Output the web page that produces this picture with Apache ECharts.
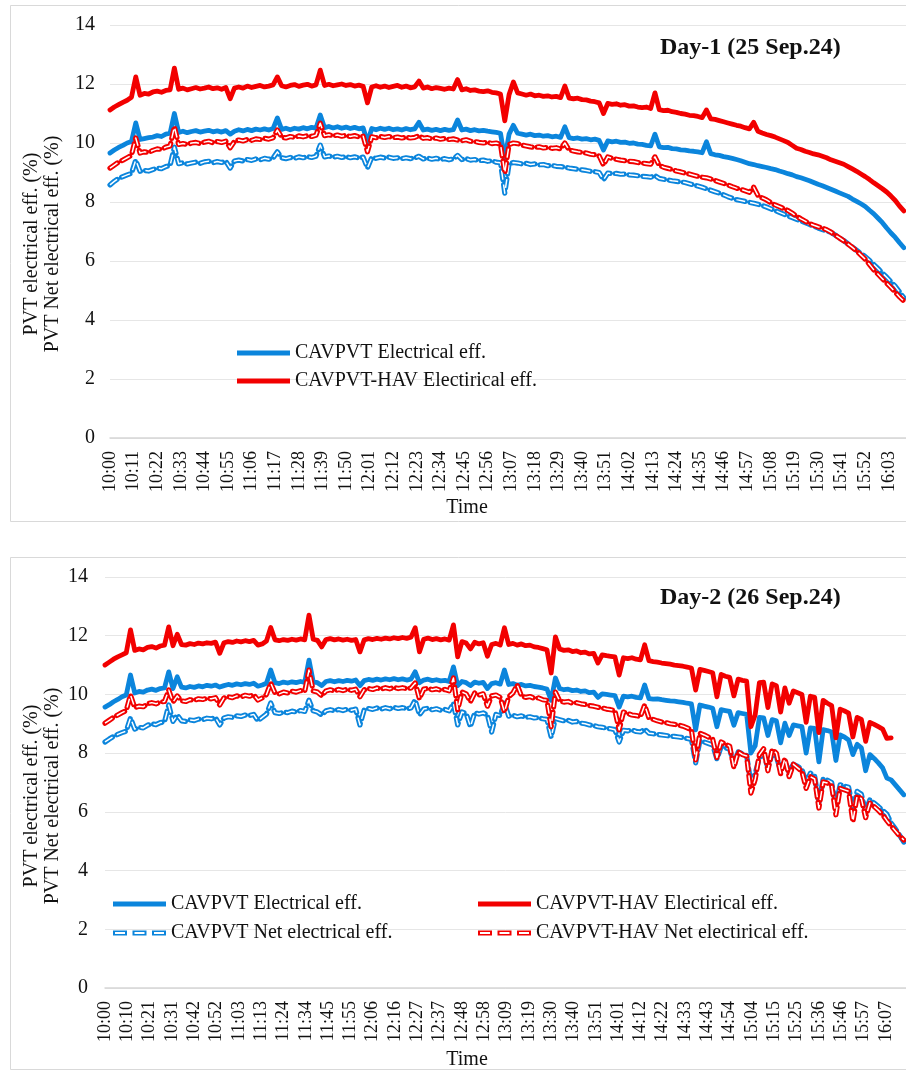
<!DOCTYPE html>
<html>
<head>
<meta charset="utf-8">
<script src="https://cdn.jsdelivr.net/npm/echarts@6/dist/echarts.min.js"></script>
<style>
html,body{margin:0;padding:0;background:#fff;}
#chart{width:906px;height:1071px;}
</style>
</head>
<body>
<div id="chart"></div>
<script>
// ---------- data (minutes after 10:00, one sample every 2 minutes) ----------
const day1Step = 2;
const day2Step = 2;

const day1Ticks = ['10:00','10:11','10:22','10:33','10:44','10:55','11:06','11:17','11:28','11:39','11:50','12:01','12:12','12:23','12:34','12:45','12:56','13:07','13:18','13:29','13:40','13:51','14:02','14:13','14:24','14:35','14:46','14:57','15:08','15:19','15:30','15:41','15:52','16:03'];
const day2Ticks = ['10:00','10:10','10:21','10:31','10:42','10:52','11:03','11:13','11:24','11:34','11:45','11:55','12:06','12:16','12:27','12:37','12:48','12:58','13:09','13:19','13:30','13:40','13:51','14:01','14:12','14:22','14:33','14:43','14:54','15:04','15:15','15:25','15:36','15:46','15:57','16:07'];

const day1Electrical = [
9.66,9.76,9.85,9.92,10.00,10.05,10.68,10.12,10.15,10.18,
10.20,10.25,10.22,10.30,10.33,11.00,10.36,10.40,10.35,10.39,
10.42,10.37,10.40,10.43,10.38,10.41,10.37,10.42,10.30,10.40,
10.45,10.41,10.46,10.42,10.47,10.44,10.48,10.44,10.49,10.85,
10.46,10.50,10.45,10.50,10.47,10.52,10.48,10.53,10.50,10.95,
10.52,10.56,10.51,10.55,10.50,10.54,10.49,10.53,10.48,10.51,
10.03,10.49,10.45,10.50,10.46,10.50,10.45,10.48,10.44,10.49,
10.45,10.48,10.70,10.44,10.47,10.43,10.46,10.42,10.46,10.43,
10.45,10.78,10.44,10.47,10.42,10.45,10.41,10.43,10.40,10.38,
10.36,10.33,9.45,10.30,10.60,10.33,10.30,10.27,10.30,10.25,
10.27,10.23,10.25,10.21,10.23,10.19,10.55,10.18,10.15,10.17,
10.13,10.15,10.11,10.13,10.09,9.76,10.07,10.04,10.06,10.02,
10.03,9.99,10.00,9.96,9.95,9.92,9.90,10.30,9.87,9.84,
9.85,9.81,9.80,9.77,9.76,9.73,9.72,9.70,9.67,10.04,
9.64,9.60,9.58,9.54,9.51,9.48,9.44,9.40,9.35,9.30,
9.27,9.23,9.20,9.17,9.13,9.10,9.05,9.01,8.96,8.92,
8.86,8.82,8.77,8.72,8.66,8.60,8.55,8.49,8.43,8.37,
8.31,8.25,8.19,8.10,8.02,7.94,7.85,7.72,7.60,7.45,
7.30,7.12,6.95,6.80,6.62,6.45];

const day1HavElectrical = [
11.12,11.22,11.30,11.38,11.45,11.55,12.24,11.62,11.68,11.66,
11.73,11.76,11.72,11.78,11.80,12.54,11.82,11.86,11.80,11.84,
11.88,11.83,11.86,11.90,11.84,11.87,11.82,11.88,11.50,11.86,
11.90,11.86,11.93,11.88,11.92,11.95,11.90,11.93,11.97,12.24,
11.94,11.90,11.95,11.98,11.92,11.96,11.99,11.93,11.97,12.47,
11.95,11.99,11.94,11.97,12.00,11.95,11.98,11.93,11.96,11.92,
11.36,11.90,11.94,11.89,11.93,11.88,11.92,11.95,11.89,11.93,
11.87,11.90,12.10,11.86,11.90,11.84,11.88,11.85,11.82,11.86,
11.83,12.15,11.80,11.84,11.78,11.80,11.76,11.74,11.77,11.72,
11.70,11.66,10.75,11.64,12.07,11.70,11.66,11.62,11.66,11.60,
11.62,11.58,11.60,11.56,11.58,11.54,11.93,11.52,11.50,11.52,
11.47,11.46,11.42,11.40,11.36,11.00,11.34,11.31,11.33,11.28,
11.30,11.25,11.26,11.22,11.20,11.22,11.17,11.70,11.13,11.10,
11.11,11.06,11.04,11.00,10.98,10.94,10.93,10.90,10.86,11.12,
10.82,10.80,10.76,10.72,10.68,10.64,10.60,10.57,10.52,10.48,
10.70,10.40,10.34,10.29,10.25,10.20,10.14,10.08,10.02,9.92,
9.82,9.78,9.72,9.68,9.63,9.60,9.55,9.50,9.43,9.38,
9.33,9.28,9.20,9.12,9.04,8.95,8.86,8.76,8.65,8.55,
8.45,8.34,8.20,8.05,7.86,7.70];

const day1NetElectrical = [
8.58,8.70,8.80,8.86,8.92,8.97,9.42,9.04,9.07,9.05,
9.10,9.15,9.13,9.20,9.24,9.86,9.30,9.33,9.29,9.32,
9.35,9.31,9.36,9.38,9.33,9.37,9.34,9.38,9.15,9.39,
9.42,9.39,9.44,9.41,9.46,9.43,9.48,9.45,9.49,9.70,
9.50,9.47,9.51,9.48,9.53,9.50,9.54,9.51,9.55,9.93,
9.53,9.56,9.52,9.55,9.51,9.54,9.50,9.53,9.49,9.52,
9.15,9.51,9.48,9.52,9.49,9.52,9.48,9.50,9.47,9.50,
9.47,9.49,9.55,9.46,9.49,9.45,9.48,9.44,9.47,9.43,
9.46,9.58,9.44,9.47,9.42,9.44,9.40,9.42,9.38,9.40,
9.35,9.33,8.30,9.30,9.34,9.32,9.29,9.31,9.27,9.29,
9.26,9.27,9.23,9.24,9.21,9.20,9.18,9.15,9.13,9.11,
9.09,9.07,9.04,9.03,9.00,8.75,8.98,8.96,8.97,8.94,
8.95,8.92,8.91,8.89,8.87,8.86,8.84,8.90,8.80,8.77,
8.75,8.72,8.70,8.68,8.66,8.62,8.58,8.54,8.50,8.45,
8.40,8.35,8.30,8.24,8.18,8.13,8.08,8.05,8.02,7.99,
7.96,7.92,7.88,7.83,7.77,7.71,7.65,7.59,7.53,7.47,
7.41,7.36,7.30,7.24,7.18,7.12,7.07,7.02,6.97,6.88,
6.78,6.69,6.58,6.47,6.36,6.25,6.15,6.02,5.88,5.74,
5.59,5.45,5.30,5.14,4.95,4.75];

const day1HavNetElectrical = [
9.15,9.25,9.35,9.42,9.50,9.58,10.17,9.66,9.70,9.68,
9.75,9.80,9.78,9.86,9.90,10.55,9.95,9.98,9.95,10.00,
10.02,9.98,10.03,10.06,10.01,10.05,10.02,10.06,9.84,10.05,
10.10,10.07,10.12,10.09,10.14,10.12,10.16,10.13,10.18,10.44,
10.20,10.17,10.22,10.19,10.24,10.21,10.25,10.22,10.26,10.67,
10.25,10.28,10.24,10.27,10.23,10.26,10.22,10.25,10.21,10.23,
9.70,10.21,10.18,10.22,10.19,10.22,10.18,10.20,10.17,10.20,
10.17,10.19,10.25,10.16,10.18,10.14,10.17,10.13,10.15,10.12,
10.14,10.10,10.08,10.11,10.06,10.05,10.02,10.00,10.03,9.98,
10.00,9.96,8.98,9.95,10.00,9.98,9.93,9.90,9.87,9.85,
9.87,9.83,9.85,9.82,9.84,9.80,10.00,9.76,9.73,9.70,
9.68,9.66,9.62,9.60,9.56,9.25,9.53,9.48,9.45,9.42,
9.40,9.38,9.37,9.34,9.32,9.30,9.28,9.53,9.24,9.18,
9.14,9.10,9.05,9.02,8.98,8.95,8.91,8.87,8.84,8.82,
8.78,8.73,8.68,8.63,8.58,8.52,8.47,8.43,8.38,8.33,
8.50,8.22,8.14,8.07,7.98,7.90,7.84,7.78,7.71,7.62,
7.52,7.43,7.35,7.27,7.21,7.16,7.12,7.06,6.98,6.88,
6.78,6.68,6.57,6.46,6.34,6.20,6.06,5.88,5.70,5.55,
5.40,5.25,5.10,4.94,4.78,4.64];

const day2Electrical = [
9.57,9.65,9.75,9.83,9.92,9.98,10.66,10.05,10.10,10.08,
10.15,10.18,10.14,10.20,10.22,10.77,10.20,10.60,10.25,10.22,
10.27,10.24,10.29,10.26,10.31,10.28,10.32,10.25,10.30,10.34,
10.31,10.36,10.33,10.37,10.34,10.38,10.28,10.32,10.38,10.83,
10.40,10.37,10.42,10.39,10.43,10.40,10.44,10.41,11.17,10.43,
10.40,10.30,10.44,10.47,10.43,10.47,10.44,10.48,10.45,10.49,
10.30,10.47,10.51,10.48,10.52,10.49,10.53,10.50,10.54,10.50,
10.53,10.49,10.52,10.77,10.40,10.49,10.52,10.47,10.50,10.46,
10.48,10.44,10.94,10.30,10.44,10.40,10.30,10.42,10.38,10.41,
10.20,10.37,10.40,10.35,10.83,10.34,10.37,10.31,10.34,10.29,
10.31,10.27,10.25,10.22,10.18,9.80,10.56,10.20,10.16,10.18,
10.13,10.15,10.10,10.12,10.06,10.08,9.90,10.02,10.00,9.98,
9.96,9.57,9.94,9.92,9.94,9.90,9.88,10.32,9.86,9.84,
9.85,9.82,9.80,9.78,9.77,9.75,9.73,9.70,9.68,8.79,
9.64,9.60,9.57,9.53,8.90,9.48,9.45,9.42,8.95,9.38,
9.35,9.32,8.00,8.25,9.22,9.20,8.60,9.14,9.10,8.35,
9.02,8.60,8.96,8.93,8.90,8.00,8.86,8.84,7.70,8.80,
8.77,8.72,7.75,8.62,8.55,8.45,7.95,8.30,8.18,7.40,
7.95,7.82,7.67,7.50,7.15,7.09,6.92,6.75,6.58];

const day2HavElectrical = [
11.00,11.10,11.20,11.28,11.35,11.42,12.20,11.50,11.55,11.52,
11.60,11.63,11.58,11.65,11.68,12.30,11.66,12.05,11.70,11.68,
11.73,11.70,11.75,11.72,11.76,11.74,11.78,11.40,11.76,11.80,
11.77,11.82,11.79,11.83,11.80,11.84,11.68,11.72,11.82,12.28,
11.86,11.83,11.87,11.84,11.88,11.85,11.89,11.86,12.70,11.88,
11.84,11.62,11.87,11.90,11.86,11.89,11.85,11.88,11.84,11.87,
11.45,11.86,11.90,11.87,11.91,11.88,11.92,11.89,11.93,11.90,
11.94,11.91,11.95,12.27,11.45,11.88,11.92,11.87,11.90,11.86,
11.89,11.85,12.37,11.28,11.80,11.75,11.55,11.78,11.72,11.76,
11.30,11.70,11.74,11.68,12.27,11.70,11.74,11.68,11.72,11.66,
11.68,11.62,11.60,11.56,11.52,10.73,11.96,11.55,11.50,11.52,
11.46,11.48,11.42,11.44,11.38,11.40,11.07,11.35,11.32,11.30,
11.28,10.66,11.25,11.22,11.25,11.20,11.18,11.69,11.15,11.12,
11.10,11.07,11.05,11.03,11.00,10.98,10.96,10.93,10.90,10.15,
10.85,10.82,10.78,10.74,9.92,10.68,10.62,10.58,9.95,10.52,
10.48,10.45,8.90,9.30,10.40,10.42,9.55,10.36,10.30,9.40,
10.22,9.70,10.12,10.06,10.00,9.05,9.94,9.90,8.70,9.80,
9.70,9.62,8.52,9.50,9.44,9.36,8.55,9.22,9.15,8.40,
9.05,8.98,8.90,8.82,8.50,8.52,null,null,null];

const day2NetElectrical = [
8.38,8.48,8.57,8.64,8.70,8.75,9.20,8.82,8.88,8.86,
8.95,9.00,8.97,9.04,9.06,9.64,9.08,9.30,9.10,9.08,
9.13,9.11,9.16,9.14,9.19,9.17,9.21,8.96,9.20,9.24,
9.22,9.27,9.25,9.30,9.28,9.32,9.10,9.22,9.33,9.71,
9.38,9.35,9.40,9.38,9.43,9.40,9.45,9.42,9.80,9.44,
9.40,9.30,9.44,9.48,9.44,9.49,9.45,9.50,9.46,9.50,
8.96,9.48,9.52,9.49,9.54,9.50,9.55,9.51,9.56,9.52,
9.55,9.51,9.54,9.81,9.30,9.50,9.53,9.48,9.51,9.46,
9.49,9.44,9.70,8.96,9.40,9.35,8.90,9.38,9.33,9.37,
9.30,8.72,9.32,9.28,9.70,9.26,9.29,9.24,9.27,9.22,
9.24,9.20,9.21,9.17,9.15,8.55,9.18,9.14,9.10,9.12,
9.06,9.08,9.02,9.00,8.96,8.94,8.90,8.88,8.85,8.83,
8.80,8.38,8.78,8.76,8.79,8.74,8.72,8.82,8.68,8.66,
8.64,8.62,8.60,8.58,8.57,8.55,8.53,8.50,8.47,7.67,
8.42,8.38,8.33,8.28,7.80,8.22,8.18,8.14,7.60,8.04,
7.98,7.92,6.98,7.30,7.85,7.98,7.50,7.98,7.88,7.40,
7.74,7.35,7.62,7.55,7.45,7.00,7.32,7.22,6.30,7.12,
7.08,7.00,6.20,6.92,6.88,6.84,6.10,6.70,6.60,6.00,
6.42,6.30,6.18,6.05,5.92,5.62,5.42,5.20,4.97];

const day2HavNetElectrical = [
9.02,9.12,9.22,9.30,9.38,9.45,9.98,9.55,9.60,9.58,
9.68,9.72,9.68,9.74,9.76,10.15,9.74,9.95,9.78,9.76,
9.82,9.80,9.85,9.83,9.87,9.85,9.89,9.64,9.88,9.92,
9.89,9.95,9.92,9.97,9.94,9.99,9.81,9.88,10.00,10.39,
10.05,10.02,10.08,10.05,10.11,10.08,10.13,10.10,10.83,10.12,
10.08,9.95,10.12,10.16,10.12,10.17,10.13,10.18,10.14,10.18,
9.92,10.16,10.20,10.17,10.22,10.18,10.23,10.19,10.24,10.20,
10.23,10.19,10.22,10.39,9.85,10.18,10.21,10.16,10.19,10.14,
10.17,10.12,10.56,9.47,10.08,10.02,9.75,10.05,9.98,10.02,
9.60,9.95,9.98,9.90,9.40,9.92,10.05,10.32,9.95,9.90,
9.93,9.87,9.88,9.82,9.80,8.90,10.08,9.78,9.74,9.76,
9.70,9.72,9.68,9.66,9.62,9.60,9.56,9.54,9.50,9.48,
9.45,8.79,9.40,9.35,9.30,9.28,9.24,9.64,9.20,9.15,
9.10,9.06,9.04,9.00,8.98,8.96,8.92,8.86,8.80,7.77,
8.68,8.62,8.55,8.48,7.85,8.38,8.30,8.24,7.50,8.05,
7.95,7.90,6.64,7.10,7.95,8.15,7.40,8.12,8.00,7.30,
7.82,7.20,7.62,7.50,7.38,6.80,7.20,7.12,6.13,7.02,
6.98,6.90,5.90,6.80,6.75,6.70,5.66,6.55,6.45,5.80,
6.30,6.18,6.05,5.90,5.70,5.52,5.35,5.18,5.04];

// ---------- styling ----------
const FONT = '"Liberation Serif", "Times New Roman", serif';
const TXT = '#111111';
const BLUE = '#0b85dc';
const RED = '#f20000';
const NAME_B = 'CAVPVT Electrical eff.';
const NAME_R = 'CAVPVT-HAV Electirical eff.';
const NAME_BN = 'CAVPVT Net electrical eff.';
const NAME_RN = 'CAVPVT-HAV Net electirical eff.';
const solidIcon = 'path://M0,0H53V5H0Z';
const dashIcon = 'path://M0,0H14V5H0Z M2,1.6V3.4H12V1.6Z M19.5,0H33.5V5H19.5Z M21.5,1.6V3.4H31.5V1.6Z M39,0H53V5H39Z M41,1.6V3.4H51V1.6Z';

function pts(vals, step) { return vals.map((v, i) => [i * step, v]); }

function solidSeries(name, vals, step, color, gi) {
  return {
    name: name, type: 'line', xAxisIndex: gi, yAxisIndex: gi,
    data: pts(vals, step), symbol: 'none', showSymbol: false,
    itemStyle: { color: color },
    lineStyle: { color: color, width: 4.8, join: 'round', cap: 'round' },
    emphasis: { disabled: true }, animation: false
  };
}
function dashedSeries(name, vals, step, color, gi) {
  return [{
    name: name, type: 'line', xAxisIndex: gi, yAxisIndex: gi,
    data: pts(vals, step), symbol: 'none', showSymbol: false,
    itemStyle: { color: color },
    lineStyle: { color: color, width: 5.2, type: [9, 5], join: 'round', cap: 'round' },
    emphasis: { disabled: true }, animation: false
  }, {
    name: name + ' inner', type: 'line', xAxisIndex: gi, yAxisIndex: gi,
    data: pts(vals, step), symbol: 'none', showSymbol: false, silent: true,
    itemStyle: { color: '#ffffff' },
    lineStyle: { color: '#ffffff', width: 1.5, type: [9, 5], join: 'round', cap: 'butt' },
    emphasis: { disabled: true }, animation: false
  }];
}

function tickFormatter(ticks, interval) {
  return function (v) {
    const k = v / interval;
    const i = Math.round(k);
    return (Math.abs(k - i) < 1e-6 && i >= 0 && i < ticks.length) ? ticks[i] : '';
  };
}

function xAxisFor(gi, max, interval, ticks) {
  return {
    type: 'value', gridIndex: gi, min: 0, max: max, interval: interval,
    axisLine: { show: true, lineStyle: { color: '#d6d6d6', width: 1.5 } },
    axisTick: { show: false }, splitLine: { show: false },
    axisLabel: {
      rotate: 90, margin: 13, fontSize: 18, fontFamily: FONT, color: TXT,
      showMaxLabel: false, formatter: tickFormatter(ticks, interval)
    }
  };
}
function yAxisFor(gi, margin) {
  return {
    type: 'value', gridIndex: gi, min: 0, max: 14, interval: 2,
    axisLine: { show: false }, axisTick: { show: false },
    splitLine: { show: true, lineStyle: { color: '#e6e6e6', width: 1 } },
    axisLabel: { margin: margin, fontSize: 20, fontFamily: FONT, color: TXT }
  };
}

function legendBox(left, top, gap, items) {
  return {
    left: left, top: top, orient: 'vertical', padding: 0, itemGap: gap,
    itemWidth: 53, itemHeight: 5, selectedMode: false,
    itemStyle: { borderWidth: 0 },
    textStyle: { fontFamily: FONT, fontSize: 20, color: TXT, lineHeight: 20 },
    data: items
  };
}

function vText(text, x, y) {
  return {
    type: 'text', x: x, y: y, rotation: Math.PI / 2, silent: true,
    style: { text: text, fontSize: 20, fontFamily: FONT, fill: TXT,
      align: 'center', verticalAlign: 'middle', textAlign: 'center', textVerticalAlign: 'middle' }
  };
}
function hText(text, x, y) {
  return {
    type: 'text', x: x, y: y, silent: true,
    style: { text: text, fontSize: 20, fontFamily: FONT, fill: TXT,
      align: 'center', verticalAlign: 'middle', textAlign: 'center', textVerticalAlign: 'middle' }
  };
}

const chart = echarts.init(document.getElementById('chart'), null, { renderer: 'canvas' });

const option = {
  backgroundColor: '#ffffff',
  animation: false,
  textStyle: { fontFamily: FONT },
  title: [
    { text: 'Day-1 (25 Sep.24)', left: 660, top: 36, padding: 0,
      textStyle: { fontFamily: FONT, fontWeight: 'bold', fontSize: 24, color: TXT } },
    { text: 'Day-2 (26 Sep.24)', left: 660, top: 586, padding: 0,
      textStyle: { fontFamily: FONT, fontWeight: 'bold', fontSize: 24, color: TXT } }
  ],
  grid: [
    { left: 110, top: 25, right: 0, height: 413, containLabel: false, outerBoundsMode: 'none' },
    { left: 105, top: 577, right: 0, height: 411, containLabel: false, outerBoundsMode: 'none' }
  ],
  xAxis: [
    xAxisFor(0, 371, 11, day1Ticks),
    xAxisFor(1, 377, 10.5, day2Ticks)
  ],
  yAxis: [ yAxisFor(0, 15), yAxisFor(1, 17) ],
  legend: [
    legendBox(237, 343, 8, [
      { name: NAME_B, icon: solidIcon },
      { name: NAME_R, icon: solidIcon }
    ]),
    legendBox(113, 894, 9, [
      { name: NAME_B, icon: solidIcon },
      { name: NAME_BN, icon: dashIcon }
    ]),
    legendBox(478, 894, 9, [
      { name: NAME_R, icon: solidIcon },
      { name: NAME_RN, icon: dashIcon }
    ])
  ],
  graphic: [
    { type: 'rect', silent: true, z: -10, shape: { x: 10.5, y: 5.5, width: 910, height: 516 },
      style: { fill: 'none', stroke: '#d9d9d9', lineWidth: 1 } },
    { type: 'rect', silent: true, z: -10, shape: { x: 10.5, y: 557.5, width: 910, height: 512 },
      style: { fill: 'none', stroke: '#d9d9d9', lineWidth: 1 } },
    vText('PVT electrical eff. (%)', 32, 244),
    vText('PVT Net electrical eff. (%)', 53, 244),
    vText('PVT electrical eff. (%)', 32, 796),
    vText('PVT Net electrical eff. (%)', 53, 796),
    hText('Time', 467, 508),
    hText('Time', 467, 1060)
  ],
  series: [].concat(
    [solidSeries(NAME_B, day1Electrical, day1Step, BLUE, 0)],
    [solidSeries(NAME_R, day1HavElectrical, day1Step, RED, 0)],
    dashedSeries(NAME_BN, day1NetElectrical, day1Step, BLUE, 0),
    dashedSeries(NAME_RN, day1HavNetElectrical, day1Step, RED, 0),
    [solidSeries(NAME_B, day2Electrical, day2Step, BLUE, 1)],
    [solidSeries(NAME_R, day2HavElectrical, day2Step, RED, 1)],
    dashedSeries(NAME_BN, day2NetElectrical, day2Step, BLUE, 1),
    dashedSeries(NAME_RN, day2HavNetElectrical, day2Step, RED, 1)
  )
};
chart.setOption(option);
</script>
</body>
</html>
